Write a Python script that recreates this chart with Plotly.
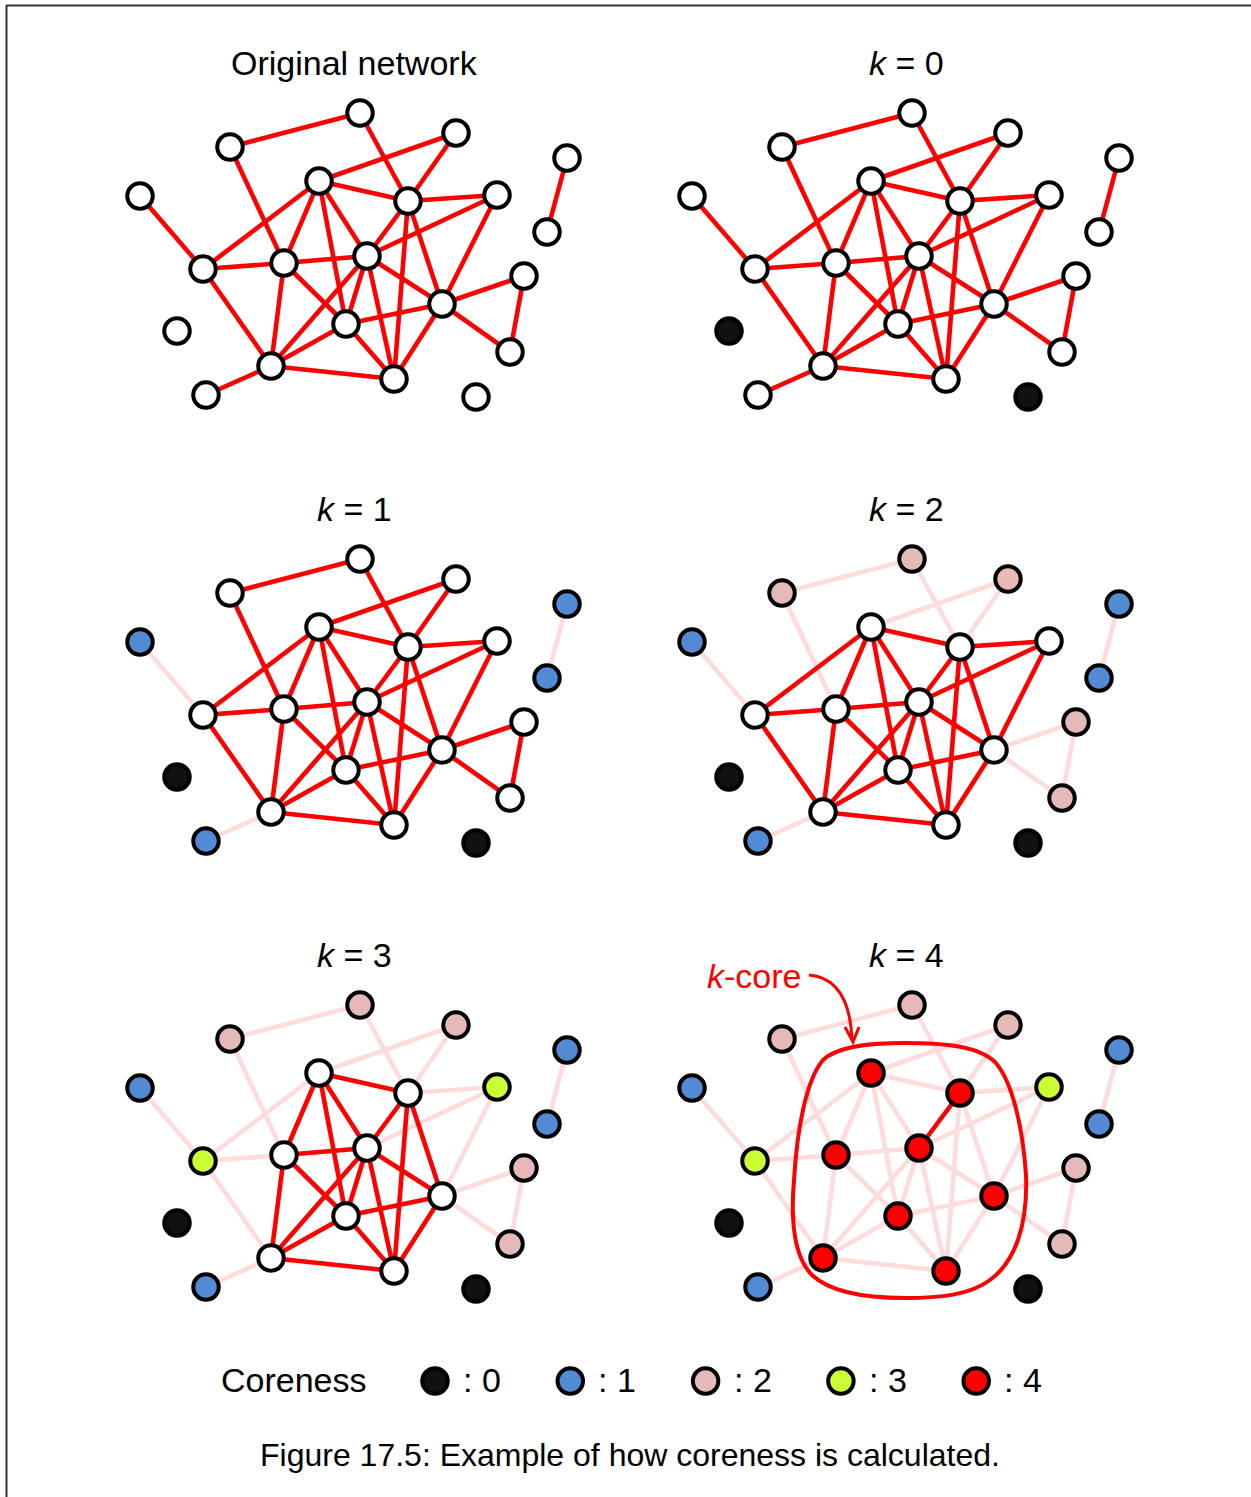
import plotly.graph_objects as go

# ---------------- data ----------------
node_ids = ["A", "B", "C", "D", "E", "F", "G", "H", "I", "J", "K",
            "L", "M", "N", "O", "P", "Q", "R", "S", "T", "U"]
node_x = [360, 230, 456, 567, 140, 319, 408, 497, 547, 203, 284,
          367, 524, 442, 177, 346, 510, 271, 394, 206, 476]
node_y = [113, 147, 133, 158, 196, 181, 201, 195, 232, 269, 263,
          256, 276, 304, 331, 324, 352, 366, 379, 395, 397]

edge_src = ["A", "A", "C", "C", "D", "E", "B", "F", "F", "F", "F", "F",
            "J", "J", "K", "K", "K", "G", "G", "G", "G", "H", "H",
            "L", "L", "L", "L", "P", "P", "P", "R", "N", "M", "M", "N", "R"]
edge_dst = ["B", "G", "F", "G", "I", "J", "K", "J", "K", "G", "L", "P",
            "K", "R", "L", "R", "P", "H", "L", "S", "N", "L", "N",
            "R", "P", "N", "S", "R", "N", "S", "S", "S", "N", "Q", "Q", "T"]

panel_titles = ["Original network", "<i>k</i> = 0", "<i>k</i> = 1",
                "<i>k</i> = 2", "<i>k</i> = 3", "<i>k</i> = 4"]
panel_k = [None, 0, 1, 2, 3, 4]
k4_highlight_edges = [("G", "L")]

coreness_levels = [0, 1, 2, 3, 4]
coreness_colors = ["#111111", "#528AD4", "#E5B9B8", "#CCFF33", "#FF0000"]
legend_title = "Coreness"
legend_labels = [": 0", ": 1", ": 2", ": 3", ": 4"]
annotation_text = "<i>k</i>-core"
caption = "Figure 17.5: Example of how coreness is calculated."

# ---------------- derived ----------------
pos = {n: (x, y) for n, x, y in zip(node_ids, node_x, node_y)}


def compute_coreness(ids, src, dst):
    adj = {n: set() for n in ids}
    for a, b in zip(src, dst):
        adj[a].add(b)
        adj[b].add(a)
    core = {}
    remaining = set(ids)
    k = 0
    while remaining:
        changed = True
        while changed:
            changed = False
            for n in sorted(remaining):
                if len(adj[n] & remaining) <= k:
                    core[n] = k
                    remaining.discard(n)
                    changed = True
        k += 1
    return core


core = compute_coreness(node_ids, edge_src, edge_dst)
color_of = dict(zip(coreness_levels, coreness_colors))

FONT = "Liberation Sans, Arial, Helvetica, sans-serif"
RED = "#FF0000"
FAINT = "#FFDCDC"
DX, DY = 552, 446
EDGE_W = 4.6
NODE_SIZE = 25.5
NODE_LINE = 4

fig = go.Figure()
annotations = []

for p, (title, k) in enumerate(zip(panel_titles, panel_k)):
    ox = (p % 2) * DX
    oy = (p // 2) * DY
    colored = set() if k is None else {n for n in node_ids if core[n] <= k}
    fx, fy, rx, ry = [], [], [], []
    for a, b in zip(edge_src, edge_dst):
        (x1, y1), (x2, y2) = pos[a], pos[b]
        seg_x = [x1 + ox, x2 + ox, None]
        seg_y = [y1 + oy, y2 + oy, None]
        hl = k == 4 and ((a, b) in k4_highlight_edges or (b, a) in k4_highlight_edges)
        if (a in colored or b in colored) and not hl:
            fx += seg_x
            fy += seg_y
        else:
            rx += seg_x
            ry += seg_y
    fig.add_trace(go.Scatter(x=fx, y=fy, mode="lines",
                             line=dict(color=FAINT, width=EDGE_W),
                             hoverinfo="skip", showlegend=False))
    fig.add_trace(go.Scatter(x=rx, y=ry, mode="lines",
                             line=dict(color=RED, width=EDGE_W),
                             hoverinfo="skip", showlegend=False))
    fills = [color_of[core[n]] if n in colored else "#FFFFFF" for n in node_ids]
    fig.add_trace(go.Scatter(
        x=[x + ox for x in node_x], y=[y + oy for y in node_y],
        mode="markers", text=node_ids, hoverinfo="text",
        marker=dict(size=NODE_SIZE, color=fills,
                    line=dict(color="#000000", width=NODE_LINE)),
        showlegend=False))
    annotations.append(dict(x=354 + ox, y=63 + oy, xref="x", yref="y",
                            text=title, showarrow=False,
                            font=dict(family=FONT, size=34, color="#000000"),
                            xanchor="center", yanchor="middle"))

# legend row
leg_x0, leg_dx, leg_y = 435, 135.3, 1381
fig.add_trace(go.Scatter(
    x=[leg_x0 + i * leg_dx for i in range(len(coreness_levels))],
    y=[leg_y] * len(coreness_levels), mode="markers",
    marker=dict(size=NODE_SIZE, color=coreness_colors,
                line=dict(color="#000000", width=NODE_LINE)),
    hoverinfo="skip", showlegend=False))
for i, lab in enumerate(legend_labels):
    annotations.append(dict(x=leg_x0 + i * leg_dx + 26, y=leg_y - 1.5, xref="x", yref="y",
                            text=lab, showarrow=False, xanchor="left", yanchor="middle",
                            font=dict(family=FONT, size=34, color="#000000")))
annotations.append(dict(x=219, y=leg_y - 1.5, xref="x", yref="y", text=legend_title,
                        showarrow=False, xanchor="left", yanchor="middle",
                        font=dict(family=FONT, size=34, color="#000000")))

# k-core label
annotations.append(dict(x=754, y=976, xref="x", yref="y", text=annotation_text,
                        showarrow=False, xanchor="center", yanchor="middle",
                        font=dict(family=FONT, size=34, color=RED)))

# caption
annotations.append(dict(x=630, y=1455, xref="x", yref="y", text=caption,
                        showarrow=False, xanchor="center", yanchor="middle",
                        font=dict(family=FONT, size=32, color="#000000")))

shapes = [
    # frame lines
    dict(type="line", xref="x", yref="y", x0=6, y0=5.5, x1=1251, y1=5.5,
         line=dict(color="#333333", width=2)),
    dict(type="line", xref="x", yref="y", x0=6.5, y0=5.5, x1=6.5, y1=1497,
         line=dict(color="#333333", width=2)),
    # k-core outline
    dict(type="path", xref="x", yref="y", layer="above",
         path=("M 823,1060 C 838,1046 870,1043 905,1043 "
               "C 945,1043 978,1046 995,1062 "
               "C 1013,1082 1023,1130 1026,1175 "
               "C 1028,1225 1015,1262 990,1280 "
               "C 970,1295 940,1298 905,1298 "
               "C 865,1298 830,1292 812,1275 "
               "C 792,1255 791,1215 794,1180 "
               "C 797,1130 806,1080 823,1060 Z"),
         line=dict(color=RED, width=4), fillcolor="rgba(0,0,0,0)"),
    # arrow
    dict(type="path", xref="x", yref="y", layer="above",
         path="M 809,975 C 833,977 850,995 852,1039",
         line=dict(color=RED, width=3)),
    dict(type="path", xref="x", yref="y", layer="above",
         path="M 845,1027 L 853,1042 L 859,1027",
         line=dict(color=RED, width=3)),
]

fig.update_layout(
    width=1251, height=1497,
    margin=dict(l=0, r=0, t=0, b=0),
    paper_bgcolor="#FFFFFF", plot_bgcolor="#FFFFFF",
    xaxis=dict(range=[0, 1251], visible=False, fixedrange=True),
    yaxis=dict(range=[1497, 0], visible=False, fixedrange=True),
    annotations=annotations, shapes=shapes,
    showlegend=False,
)

fig.write_html("out.html", config={"displayModeBar": False},
               post_script="document.body.style.margin='0';")
